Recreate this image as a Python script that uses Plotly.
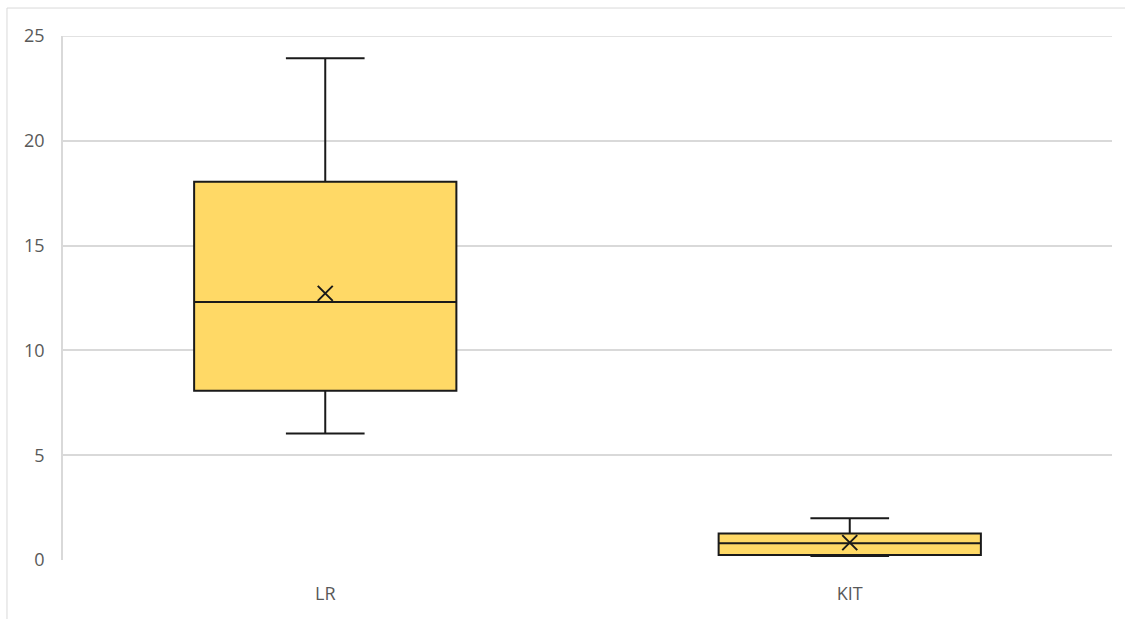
import plotly.graph_objects as go

# Summary statistics per group
categories = ["LR", "KIT"]
minimum = [6.04, 0.19]
q1 = [8.08, 0.24]
median = [12.31, 0.80]
q3 = [18.05, 1.27]
maximum = [23.94, 1.99]
mean = [12.72, 0.83]

y_ticks = [0, 5, 10, 15, 20, 25]

fill = "#FFD966"
edge = "#1A1A1A"
grid = "#D9D9D9"
label_color = "#595959"
font_family = "Open Sans, Noto Sans, sans-serif"

fig = go.Figure()

fig.add_trace(go.Box(
    x=categories,
    q1=q1,
    median=median,
    q3=q3,
    lowerfence=minimum,
    upperfence=maximum,
    fillcolor=fill,
    line=dict(color=edge, width=2),
    width=0.5,
    whiskerwidth=0.3,
    boxpoints=False,
    showlegend=False,
    hoverinfo="skip",
))

# Mean markers drawn as crosses
fig.add_trace(go.Scatter(
    x=categories,
    y=mean,
    mode="markers",
    marker=dict(symbol="x-thin", size=15, line=dict(color=edge, width=2)),
    showlegend=False,
    hoverinfo="skip",
))

fig.update_layout(
    width=1125,
    height=619,
    margin=dict(l=63, r=13, t=36, b=59),
    paper_bgcolor="white",
    plot_bgcolor="white",
    font=dict(family=font_family, size=18, color=label_color),
    xaxis=dict(
        type="category",
        categoryorder="array",
        categoryarray=categories,
        range=[-0.5, 1.5],
        showgrid=False,
        showline=False,
        zeroline=False,
        ticks="",
        ticklabelstandoff=21,
        tickfont=dict(size=18, color=label_color),
    ),
    yaxis=dict(
        range=[0, 25],
        tickvals=y_ticks,
        ticktext=[str(v) for v in y_ticks],
        showgrid=True,
        gridcolor=grid,
        gridwidth=1.5,
        showline=True,
        linecolor=grid,
        linewidth=1.5,
        zeroline=False,
        ticks="",
        ticklabelstandoff=13,
        tickfont=dict(size=18, color=label_color),
    ),
    shapes=[
        # Chart-area border
        dict(
            type="rect",
            xref="paper", yref="paper",
            x0=-0.0534, x1=1.03,
            y0=-0.2, y1=1.0534,
            line=dict(color=grid, width=1),
            fillcolor="rgba(0,0,0,0)",
            layer="below",
        ),
        # Top gridline drawn explicitly so it sits at 25
        dict(
            type="line",
            xref="paper", yref="y",
            x0=0, x1=1, y0=25, y1=25,
            line=dict(color=grid, width=1.5),
            layer="below",
        ),
    ],
)

fig.write_html("out.html")
